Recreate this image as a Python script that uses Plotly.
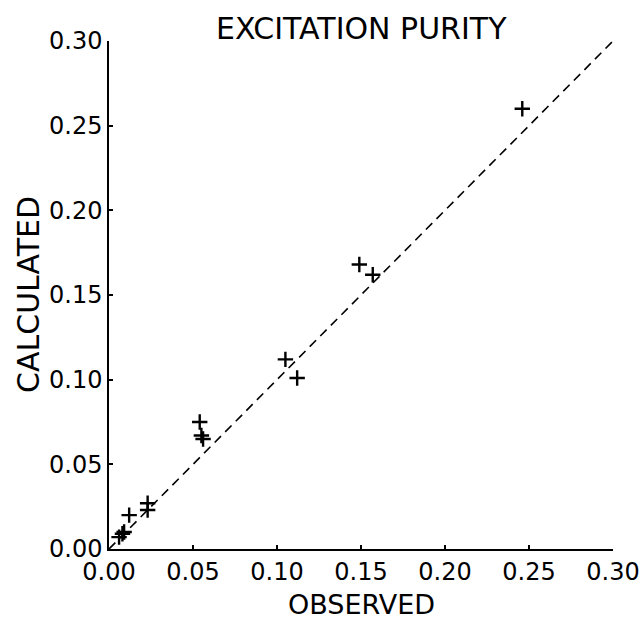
import plotly.graph_objects as go

observed = [0.246, 0.149, 0.157, 0.105, 0.112, 0.054, 0.055, 0.056, 0.012, 0.023, 0.023, 0.006, 0.008, 0.009]
calculated = [0.260, 0.168, 0.162, 0.112, 0.101, 0.075, 0.067, 0.065, 0.020, 0.027, 0.023, 0.007, 0.009, 0.010]
line_x = [0.0, 0.30]
line_y = [0.0, 0.30]
tick_vals = [0.00, 0.05, 0.10, 0.15, 0.20, 0.25, 0.30]
tick_text = ["0.00", "0.05", "0.10", "0.15", "0.20", "0.25", "0.30"]

font_family = "DejaVu Sans, Liberation Sans, sans-serif"

fig = go.Figure()
fig.add_trace(go.Scatter(
    x=line_x, y=line_y, mode="lines",
    line=dict(color="black", width=1.6, dash="9px,6px"),
    showlegend=False, hoverinfo="skip",
))
fig.add_trace(go.Scatter(
    x=observed, y=calculated, mode="markers",
    marker=dict(symbol="cross-thin", size=11, line=dict(color="black", width=2.4)),
    showlegend=False,
))

axis_common = dict(
    range=[0, 0.30], tickvals=tick_vals, ticktext=tick_text,
    showgrid=False, zeroline=False, showline=True, linecolor="black", linewidth=1.5,
    ticks="inside", ticklen=4, tickwidth=2, tickcolor="black",
    tickfont=dict(family=font_family, size=24, color="black"),
    mirror=False, automargin=False,
)

fig.update_layout(
    width=642, height=625,
    margin=dict(l=109, r=29, t=41, b=76),
    paper_bgcolor="white", plot_bgcolor="white",
    xaxis=dict(**axis_common),
    yaxis=dict(**axis_common),
    annotations=[
        dict(text="EXCITATION PURITY", x=0.5, xref="paper", y=1, yref="paper",
             yanchor="middle", yshift=13, showarrow=False,
             font=dict(family=font_family, size=30, color="black")),
        dict(text="OBSERVED", x=0.5, xref="paper", y=0, yref="paper",
             yanchor="middle", yshift=-55, showarrow=False,
             font=dict(family=font_family, size=27, color="black")),
        dict(text="CALCULATED", x=0, xref="paper", y=0.5, yref="paper",
             xanchor="center", yanchor="middle", xshift=-81, textangle=-90, showarrow=False,
             font=dict(family=font_family, size=30, color="black")),
    ],
)

fig.write_html(
    "out.html",
    config={"displayModeBar": False},
    post_script="document.body.style.margin='0';document.body.style.overflow='hidden';",
)
